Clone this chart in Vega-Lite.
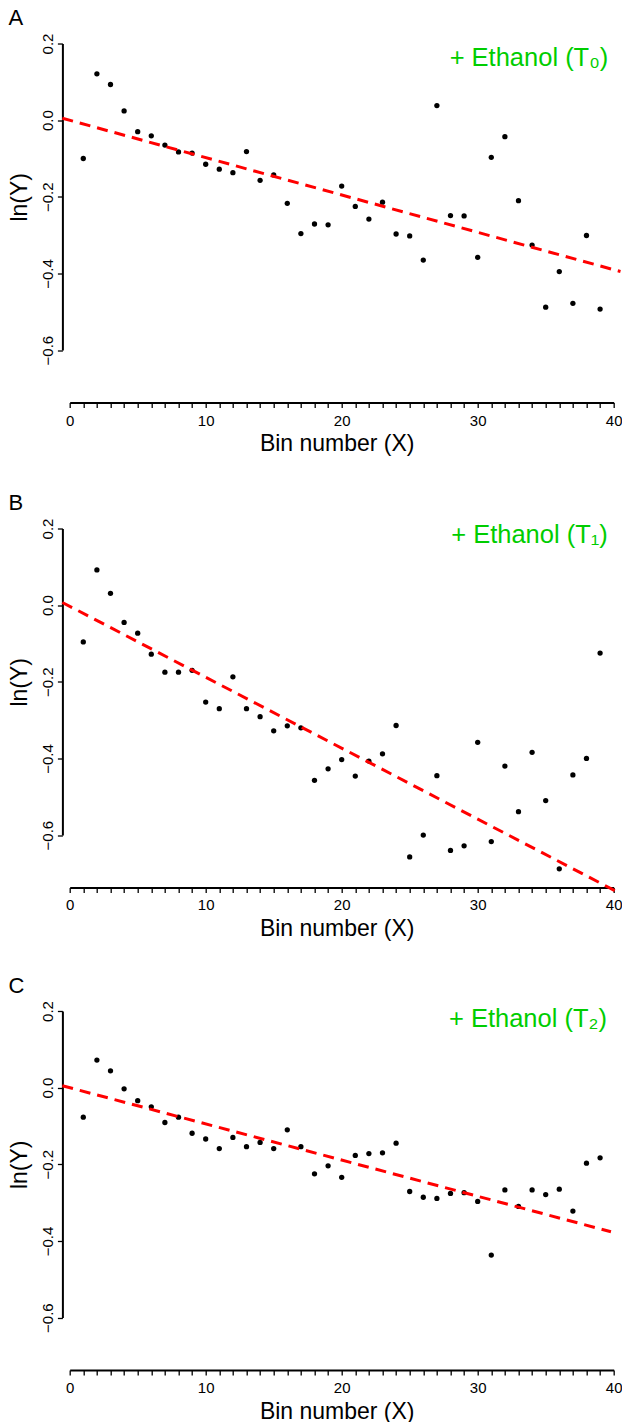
{
  "$schema": "https://vega.github.io/schema/vega-lite/v6.json",
  "padding": {"left": 7.7, "top": 6.5, "right": 0, "bottom": 0},
  "spacing": 35,
  "config": {
    "view": {"stroke": null},
    "font": "Liberation Sans",
    "axis": {"grid": false, "domain": true, "domainColor": "black", "domainWidth": 2, "tickColor": "black", "labelColor": "black", "titleColor": "black", "labelFont": "Liberation Sans", "titleFont": "Liberation Sans", "titleFontWeight": "normal"},
    "title": {"font": "Liberation Sans", "fontWeight": "normal", "color": "black"}
  },
  "datasets": {
    "a": [
      {"bin": 1, "lnY": -0.100}, {"bin": 2, "lnY": 0.121}, {"bin": 3, "lnY": 0.093}, {"bin": 4, "lnY": 0.024},
      {"bin": 5, "lnY": -0.030}, {"bin": 6, "lnY": -0.041}, {"bin": 7, "lnY": -0.065}, {"bin": 8, "lnY": -0.083},
      {"bin": 9, "lnY": -0.086}, {"bin": 10, "lnY": -0.115}, {"bin": 11, "lnY": -0.128}, {"bin": 12, "lnY": -0.137},
      {"bin": 13, "lnY": -0.082}, {"bin": 14, "lnY": -0.157}, {"bin": 15, "lnY": -0.143}, {"bin": 16, "lnY": -0.217},
      {"bin": 17, "lnY": -0.296}, {"bin": 18, "lnY": -0.271}, {"bin": 19, "lnY": -0.273}, {"bin": 20, "lnY": -0.172},
      {"bin": 21, "lnY": -0.225}, {"bin": 22, "lnY": -0.258}, {"bin": 23, "lnY": -0.214}, {"bin": 24, "lnY": -0.297},
      {"bin": 25, "lnY": -0.302}, {"bin": 26, "lnY": -0.365}, {"bin": 27, "lnY": 0.038}, {"bin": 28, "lnY": -0.249},
      {"bin": 29, "lnY": -0.250}, {"bin": 30, "lnY": -0.358}, {"bin": 31, "lnY": -0.097}, {"bin": 32, "lnY": -0.043},
      {"bin": 33, "lnY": -0.210}, {"bin": 34, "lnY": -0.326}, {"bin": 35, "lnY": -0.488}, {"bin": 36, "lnY": -0.395},
      {"bin": 37, "lnY": -0.478}, {"bin": 38, "lnY": -0.301}, {"bin": 39, "lnY": -0.493}
    ],
    "b": [
      {"bin": 1, "lnY": -0.096}, {"bin": 2, "lnY": 0.092}, {"bin": 3, "lnY": 0.031}, {"bin": 4, "lnY": -0.045},
      {"bin": 5, "lnY": -0.073}, {"bin": 6, "lnY": -0.128}, {"bin": 7, "lnY": -0.175}, {"bin": 8, "lnY": -0.175},
      {"bin": 9, "lnY": -0.170}, {"bin": 10, "lnY": -0.253}, {"bin": 11, "lnY": -0.270}, {"bin": 12, "lnY": -0.187},
      {"bin": 13, "lnY": -0.270}, {"bin": 14, "lnY": -0.291}, {"bin": 15, "lnY": -0.328}, {"bin": 16, "lnY": -0.315},
      {"bin": 17, "lnY": -0.320}, {"bin": 18, "lnY": -0.457}, {"bin": 19, "lnY": -0.427}, {"bin": 20, "lnY": -0.403},
      {"bin": 21, "lnY": -0.446}, {"bin": 22, "lnY": -0.407}, {"bin": 23, "lnY": -0.388}, {"bin": 24, "lnY": -0.314},
      {"bin": 25, "lnY": -0.657}, {"bin": 26, "lnY": -0.600}, {"bin": 27, "lnY": -0.445}, {"bin": 28, "lnY": -0.640},
      {"bin": 29, "lnY": -0.628}, {"bin": 30, "lnY": -0.358}, {"bin": 31, "lnY": -0.617}, {"bin": 32, "lnY": -0.420},
      {"bin": 33, "lnY": -0.539}, {"bin": 34, "lnY": -0.384}, {"bin": 35, "lnY": -0.510}, {"bin": 36, "lnY": -0.688},
      {"bin": 37, "lnY": -0.443}, {"bin": 38, "lnY": -0.400}, {"bin": 39, "lnY": -0.125}
    ],
    "c": [
      {"bin": 1, "lnY": -0.077}, {"bin": 2, "lnY": 0.072}, {"bin": 3, "lnY": 0.044}, {"bin": 4, "lnY": -0.003},
      {"bin": 5, "lnY": -0.034}, {"bin": 6, "lnY": -0.050}, {"bin": 7, "lnY": -0.091}, {"bin": 8, "lnY": -0.077},
      {"bin": 9, "lnY": -0.119}, {"bin": 10, "lnY": -0.134}, {"bin": 11, "lnY": -0.159}, {"bin": 12, "lnY": -0.130},
      {"bin": 13, "lnY": -0.154}, {"bin": 14, "lnY": -0.143}, {"bin": 15, "lnY": -0.159}, {"bin": 16, "lnY": -0.110},
      {"bin": 17, "lnY": -0.154}, {"bin": 18, "lnY": -0.225}, {"bin": 19, "lnY": -0.204}, {"bin": 20, "lnY": -0.234},
      {"bin": 21, "lnY": -0.177}, {"bin": 22, "lnY": -0.172}, {"bin": 23, "lnY": -0.170}, {"bin": 24, "lnY": -0.145},
      {"bin": 25, "lnY": -0.271}, {"bin": 26, "lnY": -0.286}, {"bin": 27, "lnY": -0.289}, {"bin": 28, "lnY": -0.276},
      {"bin": 29, "lnY": -0.274}, {"bin": 30, "lnY": -0.297}, {"bin": 31, "lnY": -0.437}, {"bin": 32, "lnY": -0.267},
      {"bin": 33, "lnY": -0.310}, {"bin": 34, "lnY": -0.267}, {"bin": 35, "lnY": -0.279}, {"bin": 36, "lnY": -0.265},
      {"bin": 37, "lnY": -0.322}, {"bin": 38, "lnY": -0.197}, {"bin": 39, "lnY": -0.183}
    ],
    "la": [{"bin": -0.54, "lnY": 0.005}, {"bin": 40.5, "lnY": -0.395}],
    "lb": [{"bin": -0.54, "lnY": 0.007}, {"bin": 40.2, "lnY": -0.747}],
    "lc": [{"bin": -0.54, "lnY": 0.005}, {"bin": 39.8, "lnY": -0.376}]
  },
  "vconcat": [
    {
      "width": 544, "height": 306.6,
      "title": {"text": "A", "anchor": "start", "frame": "bounds", "fontSize": 22, "offset": 3},
      "encoding": {
        "x": {"field": "bin", "type": "quantitative", "scale": {"domain": [0, 40], "nice": false, "zero": false},
              "axis": {"title": "Bin number (X)", "offset": 52.3, "values": [0,1,2,3,4,5,6,7,8,9,10,11,12,13,14,15,16,17,18,19,20,21,22,23,24,25,26,27,28,29,30,31,32,33,34,35,36,37,38,39,40], "labelExpr": "datum.value % 10 === 0 ? datum.label : ''", "format": "d", "tickSize": 5, "tickWidth": 1.3, "labelPadding": 5.6, "labelFontSize": 15, "titleFontSize": 23, "titlePadding": 4.6, "titleX": 267, "labelFlush": false, "labelOverlap": false}},
        "y": {"field": "lnY", "type": "quantitative", "scale": {"domain": [-0.6, 0.2], "nice": false, "zero": false},
              "axis": {"title": "ln(Y)", "offset": 7.3, "values": [-0.6, -0.4, -0.2, 0, 0.2], "format": ".1f", "labelAngle": 270, "labelAlign": "center", "labelBaseline": "bottom", "labelPadding": 2, "tickSize": 5, "tickWidth": 1.3, "labelFontSize": 15, "titleFontSize": 23, "titlePadding": 9, "labelFlush": false, "labelOverlap": false}}
      },
      "layer": [
        {"data": {"name": "a"}, "mark": {"type": "circle", "size": 28, "color": "black", "opacity": 1}},
        {"data": {"name": "la"}, "mark": {"type": "line", "color": "#ff0000", "strokeWidth": 3, "strokeDash": [11, 7]}},
        {"data": {"values": [{"label": "+ Ethanol (T₀)", "bin": 39.6, "lnY": 0.142}]}, "mark": {"type": "text", "align": "right", "baseline": "alphabetic", "fontSize": 25.5, "color": "#00cd00", "font": "Liberation Sans"},
         "encoding": {"text": {"field": "label"}}}
      ]
    },
    {
      "spacing": 32.5,
      "vconcat": [
        {
          "width": 544, "height": 306.6,
          "title": {"text": "B", "anchor": "start", "frame": "bounds", "fontSize": 22, "offset": 3},
          "encoding": {
            "x": {"field": "bin", "type": "quantitative", "scale": {"domain": [0, 40], "nice": false, "zero": false},
                  "axis": {"title": "Bin number (X)", "offset": 52.3, "values": [0,1,2,3,4,5,6,7,8,9,10,11,12,13,14,15,16,17,18,19,20,21,22,23,24,25,26,27,28,29,30,31,32,33,34,35,36,37,38,39,40], "labelExpr": "datum.value % 10 === 0 ? datum.label : ''", "format": "d", "tickSize": 5, "tickWidth": 1.3, "labelPadding": 5.6, "labelFontSize": 15, "titleFontSize": 23, "titlePadding": 4.6, "titleX": 267, "labelFlush": false, "labelOverlap": false}},
            "y": {"field": "lnY", "type": "quantitative", "scale": {"domain": [-0.6, 0.2], "nice": false, "zero": false},
                  "axis": {"title": "ln(Y)", "offset": 7.3, "values": [-0.6, -0.4, -0.2, 0, 0.2], "format": ".1f", "labelAngle": 270, "labelAlign": "center", "labelBaseline": "bottom", "labelPadding": 2, "tickSize": 5, "tickWidth": 1.3, "labelFontSize": 15, "titleFontSize": 23, "titlePadding": 9, "labelFlush": false, "labelOverlap": false}}
          },
          "layer": [
            {"data": {"name": "b"}, "mark": {"type": "circle", "size": 28, "color": "black", "opacity": 1}},
            {"data": {"name": "lb"}, "mark": {"type": "line", "color": "#ff0000", "strokeWidth": 3, "strokeDash": [11, 7]}},
            {"data": {"values": [{"label": "+ Ethanol (T₁)", "bin": 39.57, "lnY": 0.161}]}, "mark": {"type": "text", "align": "right", "baseline": "alphabetic", "fontSize": 25.5, "color": "#00cd00", "font": "Liberation Sans"},
             "encoding": {"text": {"field": "label"}}}
          ]
        },
        {
          "width": 544, "height": 306.6,
          "title": {"text": "C", "anchor": "start", "frame": "bounds", "fontSize": 22, "offset": 3},
          "encoding": {
            "x": {"field": "bin", "type": "quantitative", "scale": {"domain": [0, 40], "nice": false, "zero": false},
                  "axis": {"title": "Bin number (X)", "offset": 52.3, "values": [0,1,2,3,4,5,6,7,8,9,10,11,12,13,14,15,16,17,18,19,20,21,22,23,24,25,26,27,28,29,30,31,32,33,34,35,36,37,38,39,40], "labelExpr": "datum.value % 10 === 0 ? datum.label : ''", "format": "d", "tickSize": 5, "tickWidth": 1.3, "labelPadding": 5.6, "labelFontSize": 15, "titleFontSize": 23, "titlePadding": 4.6, "titleX": 267, "labelFlush": false, "labelOverlap": false}},
            "y": {"field": "lnY", "type": "quantitative", "scale": {"domain": [-0.6, 0.2], "nice": false, "zero": false},
                  "axis": {"title": "ln(Y)", "offset": 7.3, "values": [-0.6, -0.4, -0.2, 0, 0.2], "format": ".1f", "labelAngle": 270, "labelAlign": "center", "labelBaseline": "bottom", "labelPadding": 2, "tickSize": 5, "tickWidth": 1.3, "labelFontSize": 15, "titleFontSize": 23, "titlePadding": 9, "labelFlush": false, "labelOverlap": false}}
          },
          "layer": [
            {"data": {"name": "c"}, "mark": {"type": "circle", "size": 28, "color": "black", "opacity": 1}},
            {"data": {"name": "lc"}, "mark": {"type": "line", "color": "#ff0000", "strokeWidth": 3, "strokeDash": [11, 7]}},
            {"data": {"values": [{"label": "+ Ethanol (T₂)", "bin": 39.5, "lnY": 0.159}]}, "mark": {"type": "text", "align": "right", "baseline": "alphabetic", "fontSize": 25.5, "color": "#00cd00", "font": "Liberation Sans"},
             "encoding": {"text": {"field": "label"}}}
          ]
        }
      ]
    }
  ]
}
